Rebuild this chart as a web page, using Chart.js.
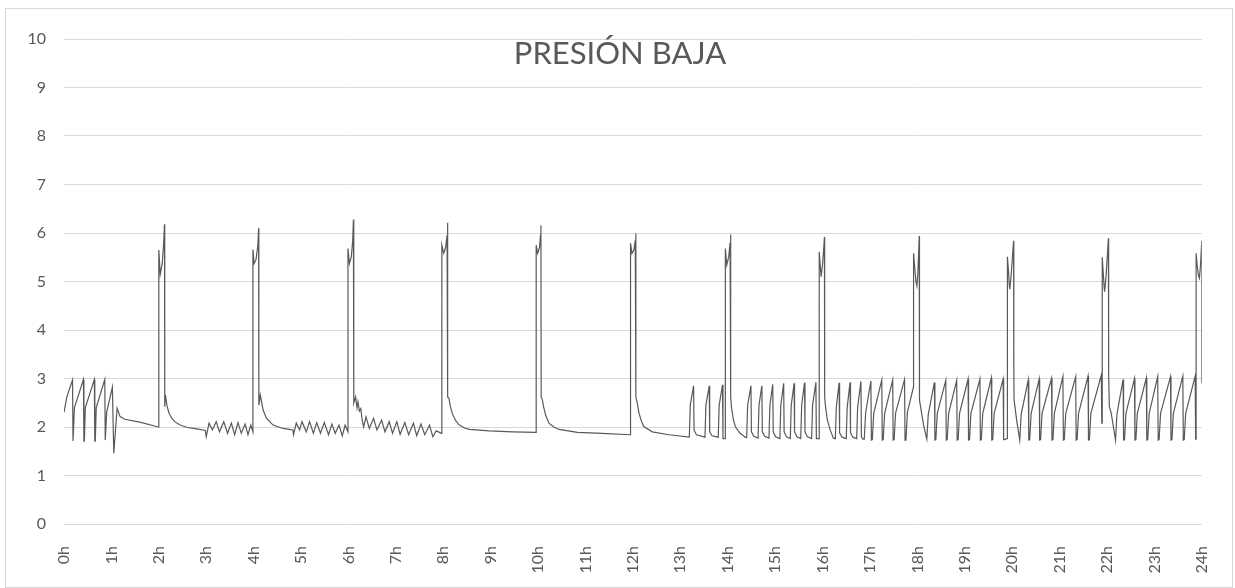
<!DOCTYPE html>
<html lang="es">
<head>
  <meta charset="UTF-8" />
  <title>Presión baja</title>
  <script src="https://cdn.jsdelivr.net/npm/chart.js"></script>
  <style>
    body { margin: 0; background: #fff; }
    .marco {
      position: absolute;
      left: 5px; top: 8px;
      width: 1226px; height: 578px;
      border: 1px solid #d9d9d9;
    }
    canvas { position: absolute; left: 0; top: 0; }
  </style>
</head>
<body>
  <div class="marco"></div>
  <canvas id="grafico" width="1235" height="588"></canvas>

  <script>
    const titulo = "PRESIÓN BAJA";
    const etiquetasHoras = ["0h","1h","2h","3h","4h","5h","6h","7h","8h","9h","10h","11h","12h",
      "13h","14h","15h","16h","17h","18h","19h","20h","21h","22h","23h","24h"];

    // [hora, presión], por tramos de 2 h
    const tramo0h = [
      [0.00,2.30],[0.06,2.62],[0.18,2.97],[0.19,1.71],[0.20,1.71],[0.22,2.40],
      [0.41,2.98],[0.42,1.71],[0.43,1.71],[0.45,2.40],
      [0.64,2.98],[0.65,1.71],[0.66,1.71],[0.68,2.40],
      [0.86,2.98],[0.87,1.73],[0.88,1.73],[0.90,2.30],
      [1.02,2.82],[1.05,1.46],[1.12,2.39],[1.18,2.22],[1.28,2.16],[1.60,2.10],[1.99,2.00]
    ];
    const tramo2h = [
      [2.00,2.00],[2.00,5.65],[2.03,5.15],[2.07,5.35],[2.10,5.75],[2.12,6.18],[2.125,2.42],[2.14,2.66],
      [2.17,2.45],[2.21,2.30],[2.27,2.18],[2.35,2.10],[2.45,2.04],[2.60,1.99],[2.80,1.96],[2.98,1.93],
      [3.00,1.80],[3.06,2.08],[3.13,1.94],[3.21,2.11],[3.28,1.90],[3.37,2.11],[3.45,1.87],[3.53,2.08],
      [3.60,1.84],[3.67,2.09],[3.74,1.87],[3.82,2.06],[3.88,1.84],[3.94,2.04],[3.985,1.90]
    ];
    const tramo4h = [
      [3.985,5.66],[4.01,5.37],[4.05,5.45],[4.09,5.75],[4.105,6.10],[4.11,2.45],[4.14,2.66],[4.20,2.35],
      [4.27,2.18],[4.41,2.04],[4.62,1.97],[4.83,1.94],
      [4.84,1.84],[4.90,2.08],[4.97,1.94],[5.02,2.11],[5.11,1.90],[5.18,2.11],[5.26,1.87],[5.33,2.09],
      [5.41,1.87],[5.49,2.09],[5.58,1.84],[5.65,2.06],[5.72,1.87],[5.80,2.04],[5.87,1.82],[5.93,2.04],[5.99,1.90]
    ];
    const tramo6h = [
      [5.99,5.68],[6.02,5.37],[6.06,5.50],[6.09,5.85],[6.105,6.28],[6.11,2.97],[6.115,2.49],[6.15,2.62],
      [6.18,2.40],[6.20,2.52],[6.23,2.33],[6.26,2.38],[6.29,2.14],[6.32,2.00],[6.37,2.21],[6.44,1.97],
      [6.53,2.18],[6.60,1.94],[6.70,2.14],[6.77,1.90],[6.86,2.11],[6.93,1.87],[7.02,2.11],[7.09,1.85],
      [7.19,2.09],[7.27,1.84],[7.37,2.08],[7.44,1.82],[7.53,2.06],[7.61,1.84],[7.71,2.04],[7.78,1.80],
      [7.85,1.92],[7.965,1.87]
    ];
    const tramo8h = [
      [7.97,1.87],[7.97,5.75],[8.01,5.58],[8.05,5.70],[8.08,5.95],[8.09,6.21],[8.095,2.62],[8.12,2.59],
      [8.15,2.42],[8.20,2.25],[8.27,2.12],[8.34,2.04],[8.45,1.98],[8.55,1.95],[8.97,1.92],[9.46,1.90],[9.955,1.89]
    ];
    const tramo10h = [
      [9.96,1.89],[9.96,5.75],[9.99,5.58],[10.03,5.70],[10.05,5.95],[10.06,6.16],[10.065,2.62],[10.09,2.56],
      [10.12,2.40],[10.16,2.24],[10.23,2.08],[10.33,2.00],[10.44,1.95],[10.83,1.89],[11.35,1.87],[11.945,1.84]
    ];
    const tramo12h = [
      [11.95,1.84],[11.95,5.79],[11.98,5.58],[12.02,5.65],[12.05,5.85],[12.06,5.99],[12.065,2.62],[12.09,2.50],
      [12.13,2.28],[12.18,2.12],[12.23,2.01],[12.41,1.90],[12.76,1.84],[13.19,1.79],
      [13.21,2.45],[13.28,2.85],[13.29,1.94],[13.34,1.84],[13.52,1.79],[13.54,2.45],[13.61,2.85],[13.62,1.90],
      [13.67,1.82],[13.80,1.79],[13.82,2.45],[13.89,2.87],[13.90,1.76],[13.95,1.76]
    ];
    const tramo14h = [
      [13.95,5.68],[13.98,5.34],[14.02,5.50],[14.05,5.80],[14.06,5.97],[14.065,2.62],[14.08,2.40],[14.12,2.15],
      [14.16,2.01],[14.25,1.88],[14.37,1.79],
      [14.40,1.78],[14.42,2.45],[14.49,2.85],[14.50,1.90],[14.55,1.81],
      [14.64,1.77],[14.66,2.45],[14.72,2.85],[14.73,1.90],[14.78,1.81],
      [14.87,1.77],[14.89,2.45],[14.95,2.88],[14.96,1.90],[15.01,1.80],
      [15.10,1.76],[15.12,2.45],[15.18,2.90],[15.19,1.90],[15.24,1.80],
      [15.32,1.76],[15.34,2.45],[15.40,2.90],[15.41,1.90],[15.46,1.80],
      [15.54,1.76],[15.56,2.45],[15.62,2.91],[15.63,1.90],[15.68,1.80],
      [15.77,1.76],[15.79,2.45],[15.86,2.92],[15.87,1.76],[15.93,1.76]
    ];
    const tramo16h = [
      [15.93,5.61],[15.97,5.10],[16.00,5.35],[16.03,5.75],[16.04,5.92],[16.045,2.62],[16.06,2.45],[16.10,2.15],
      [16.16,1.94],[16.23,1.77],
      [16.27,1.76],[16.29,2.40],[16.35,2.91],[16.36,1.88],[16.41,1.79],
      [16.50,1.76],[16.52,2.40],[16.58,2.92],[16.59,1.88],[16.64,1.79],
      [16.72,1.76],[16.74,2.40],[16.81,2.94],[16.82,1.80],[16.85,1.75],
      [16.88,1.75],[16.91,2.30],[17.02,2.95],[17.03,1.73],[17.05,1.74],[17.08,2.28],
      [17.25,2.97],[17.26,1.73],[17.28,1.74],[17.31,2.28],
      [17.48,2.97],[17.49,1.73],[17.51,1.74],[17.54,2.28],
      [17.73,2.98],[17.74,1.73],[17.76,1.74],[17.79,2.30],[17.92,2.83]
    ];
    const tramo18h = [
      [17.92,5.58],[17.94,5.35],[17.97,5.00],[17.99,4.91],[18.01,5.15],[18.04,5.94],[18.045,2.56],[18.09,2.28],
      [18.14,2.00],[18.20,1.75],[18.23,2.26],
      [18.36,2.92],[18.37,1.73],[18.39,1.74],[18.42,2.28],
      [18.60,2.96],[18.61,1.73],[18.63,1.74],[18.66,2.28],
      [18.83,2.96],[18.84,1.73],[18.86,1.74],[18.89,2.28],
      [19.07,2.99],[19.08,1.73],[19.10,1.74],[19.13,2.28],
      [19.32,2.99],[19.33,1.73],[19.35,1.74],[19.38,2.28],
      [19.56,3.01],[19.57,1.73],[19.59,1.74],[19.62,2.28],
      [19.81,2.99],[19.82,1.74],[19.90,1.76]
    ];
    const tramo20h = [
      [19.90,5.51],[19.92,5.25],[19.94,4.92],[19.95,4.84],[19.98,5.15],[20.03,5.84],[20.035,3.15],[20.04,2.56],
      [20.10,2.10],[20.16,1.73],[20.19,2.26],
      [20.34,2.97],[20.35,1.73],[20.37,1.74],[20.40,2.28],
      [20.57,2.99],[20.58,1.73],[20.60,1.74],[20.63,2.28],
      [20.83,3.00],[20.84,1.73],[20.86,1.74],[20.89,2.28],
      [21.07,3.04],[21.08,1.73],[21.10,1.74],[21.13,2.28],
      [21.34,3.04],[21.35,1.73],[21.37,1.74],[21.40,2.28],
      [21.60,3.05],[21.61,1.73],[21.63,1.74],[21.66,2.28],
      [21.88,3.07],[21.89,2.08],[21.90,2.08]
    ];
    const tramo22h = [
      [21.90,5.50],[21.92,5.20],[21.94,4.88],[21.95,4.79],[21.98,5.10],[22.03,5.89],[22.035,3.10],[22.05,2.42],
      [22.09,2.28],[22.18,1.73],[22.21,2.26],
      [22.34,2.98],[22.35,1.73],[22.37,1.74],[22.40,2.28],
      [22.58,3.00],[22.59,1.73],[22.61,1.74],[22.64,2.28],
      [22.83,3.01],[22.84,1.73],[22.86,1.74],[22.89,2.28],
      [23.07,3.04],[23.08,1.73],[23.10,1.74],[23.13,2.28],
      [23.34,3.04],[23.35,1.73],[23.37,1.74],[23.40,2.28],
      [23.60,3.05],[23.61,1.73],[23.63,1.74],[23.66,2.28],
      [23.86,3.05],[23.87,1.75],[23.88,1.75]
    ];
    const tramo24h = [
      [23.88,5.58],[23.90,5.35],[23.93,5.12],[23.95,5.07],[23.97,5.30],[24.00,5.84],[24.00,2.90]
    ];

    const tramos = [tramo0h, tramo2h, tramo4h, tramo6h, tramo8h, tramo10h, tramo12h,
      tramo14h, tramo16h, tramo18h, tramo20h, tramo22h, tramo24h];
    const puntos = [].concat(...tramos).map(p => ({ x: p[0], y: p[1] }));

    const gris = '#595959';
    Chart.defaults.font.family = 'Lato, "Open Sans", sans-serif';
    Chart.defaults.font.size = 16;
    Chart.defaults.color = gris;

    // titulo dibujado dentro del area del grafico, como en Excel
    const tituloDentro = {
      id: 'tituloDentro',
      afterDatasetsDraw(chart) {
        const ctx = chart.ctx;
        ctx.save();
        ctx.font = '31px Lato, "Open Sans", sans-serif';
        ctx.fillStyle = gris;
        ctx.textAlign = 'center';
        ctx.textBaseline = 'alphabetic';
        ctx.fillText(titulo, 620, 64);
        ctx.restore();
      }
    };

    new Chart(document.getElementById('grafico'), {
      type: 'line',
      data: {
        datasets: [{
          label: titulo,
          data: puntos,
          borderColor: gris,
          borderWidth: 1.2,
          pointRadius: 0,
          tension: 0,
          fill: false
        }]
      },
      options: {
        responsive: false,
        animation: false,
        layout: { padding: { top: 39, right: 31, left: 0, bottom: 0 } },
        plugins: {
          legend: { display: false },
          tooltip: { enabled: false }
        },
        scales: {
          x: {
            type: 'linear',
            min: 0,
            max: 24,
            afterFit: s => { s.height = 64; },
            grid: { display: false },
            border: { display: false },
            ticks: {
              stepSize: 1,
              minRotation: 90,
              maxRotation: 90,
              padding: 14,
              autoSkip: false,
              callback: v => etiquetasHoras[v]
            }
          },
          y: {
            min: 0,
            max: 10,
            afterFit: s => { s.width = 64; },
            grid: { color: '#d9d9d9', lineWidth: 1, drawTicks: false },
            border: { display: false },
            ticks: { stepSize: 1, padding: 18 }
          }
        }
      },
      plugins: [tituloDentro]
    });
  </script>
</body>
</html>
